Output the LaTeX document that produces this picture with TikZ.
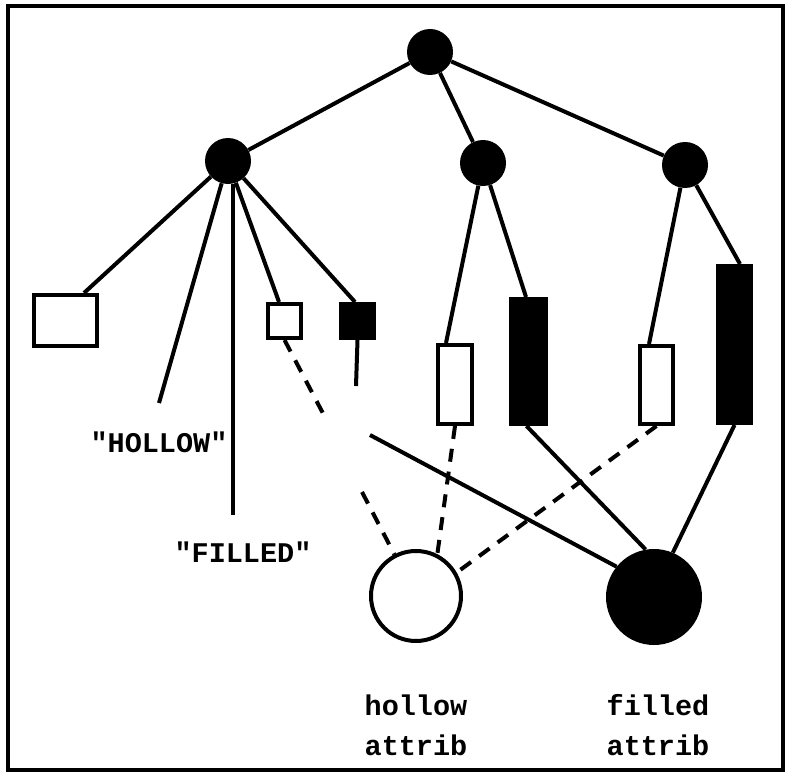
\documentclass[tikz,border=0pt]{standalone}
\usepackage{fontspec}
\newfontfamily\labfont{Liberation Mono}
\begin{document}
\begin{tikzpicture}[x=1pt,y=-1pt,
  edge/.style={line width=4pt},
  dashedge/.style={line width=4pt, dash pattern=on 13pt off 10pt},
  dot/.style={circle, fill=black, inner sep=0pt, minimum size=46pt},
  hbox/.style={draw, line width=4pt, fill=white, inner sep=0pt},
  fbox/.style={draw, line width=4pt, fill=black, inner sep=0pt},
  lab/.style={font=\labfont\bfseries\fontsize{28.5}{40}\selectfont, align=center, inner sep=0pt}]
\useasboundingbox (0,0) rectangle (787,773);
\draw[line width=4pt] (8,6) rectangle (783,770);

% tree nodes
\node[dot] (root) at (430,52) {};
\node[dot] (L) at (228,161) {};
\node[dot] (M) at (483,163) {};
\node[dot] (R) at (685,165) {};

% boxes
\node[hbox, minimum width=63pt, minimum height=51pt] (A) at (65.5,320.5) {};
\node[hbox, minimum width=33pt, minimum height=34pt] (B) at (284.5,321) {};
\node[fbox, minimum width=33pt, minimum height=34pt] (C) at (357.5,321) {};
\node[hbox, minimum width=34pt, minimum height=79pt] (D) at (455,384.5) {};
\node[fbox, minimum width=35pt, minimum height=125pt] (E) at (528.5,361.5) {};
\node[hbox, minimum width=33pt, minimum height=78pt] (F) at (656.5,385) {};
\node[fbox, minimum width=33pt, minimum height=157pt] (G) at (734.5,344.5) {};

% attribute circles
\node[circle, draw, line width=4pt, fill=white, inner sep=0pt, minimum size=90pt] (H) at (416,596) {};
\node[circle, fill=black, inner sep=0pt, minimum size=96pt] (Fc) at (654,597) {};

% free ends
\coordinate (h1) at (159,403);
\coordinate (f1) at (233,515);
\coordinate (c1) at (356,386);
\coordinate (b1) at (327,421);
\coordinate (b2) at (362,492);
\coordinate (s1) at (370,435);

% labels
\node[lab] (hl) at (159,442) {"HOLLOW"};
\node[lab] (fl) at (243,552) {"FILLED"};
\node[lab] (ha) at (416,725) {hollow\\attrib};
\node[lab] (fa) at (658,725) {filled\\attrib};

% tree edges
\draw[edge] (root) -- (L);
\draw[edge] (root) -- (M);
\draw[edge] (root) -- (R);
\draw[edge] (L) -- ([xshift=18.5pt]A.north);
\draw[edge] (L) -- (h1);
\draw[edge] (L.south -| f1) -- (f1);
\draw[edge] (L) -- ([xshift=-5.5pt]B.north);
\draw[edge] (L) -- ([xshift=-2.5pt]C.north);
\draw[edge] (C.south) -- (c1);
\draw[edge] (M) -- ([xshift=-9pt]D.north);
\draw[edge] (M) -- ([xshift=-2.5pt]E.north);
\draw[edge] (R) -- ([xshift=-7.5pt]F.north);
\draw[edge] (R) -- ([xshift=5.5pt]G.north);

% links to attributes
\draw[dashedge] (B.south) -- (b1);
\draw[dashedge] (b2) -- (H);
\draw[dashedge] (D.south) -- (H.63);
\draw[dashedge] (F.south) -- (H.30);
\draw[edge] ([xshift=-2pt]E.south) -- (Fc.100);
\draw[edge] (G.south) -- (Fc.67);
\draw[edge] (s1) -- (Fc.141);
\end{tikzpicture}
\end{document}
